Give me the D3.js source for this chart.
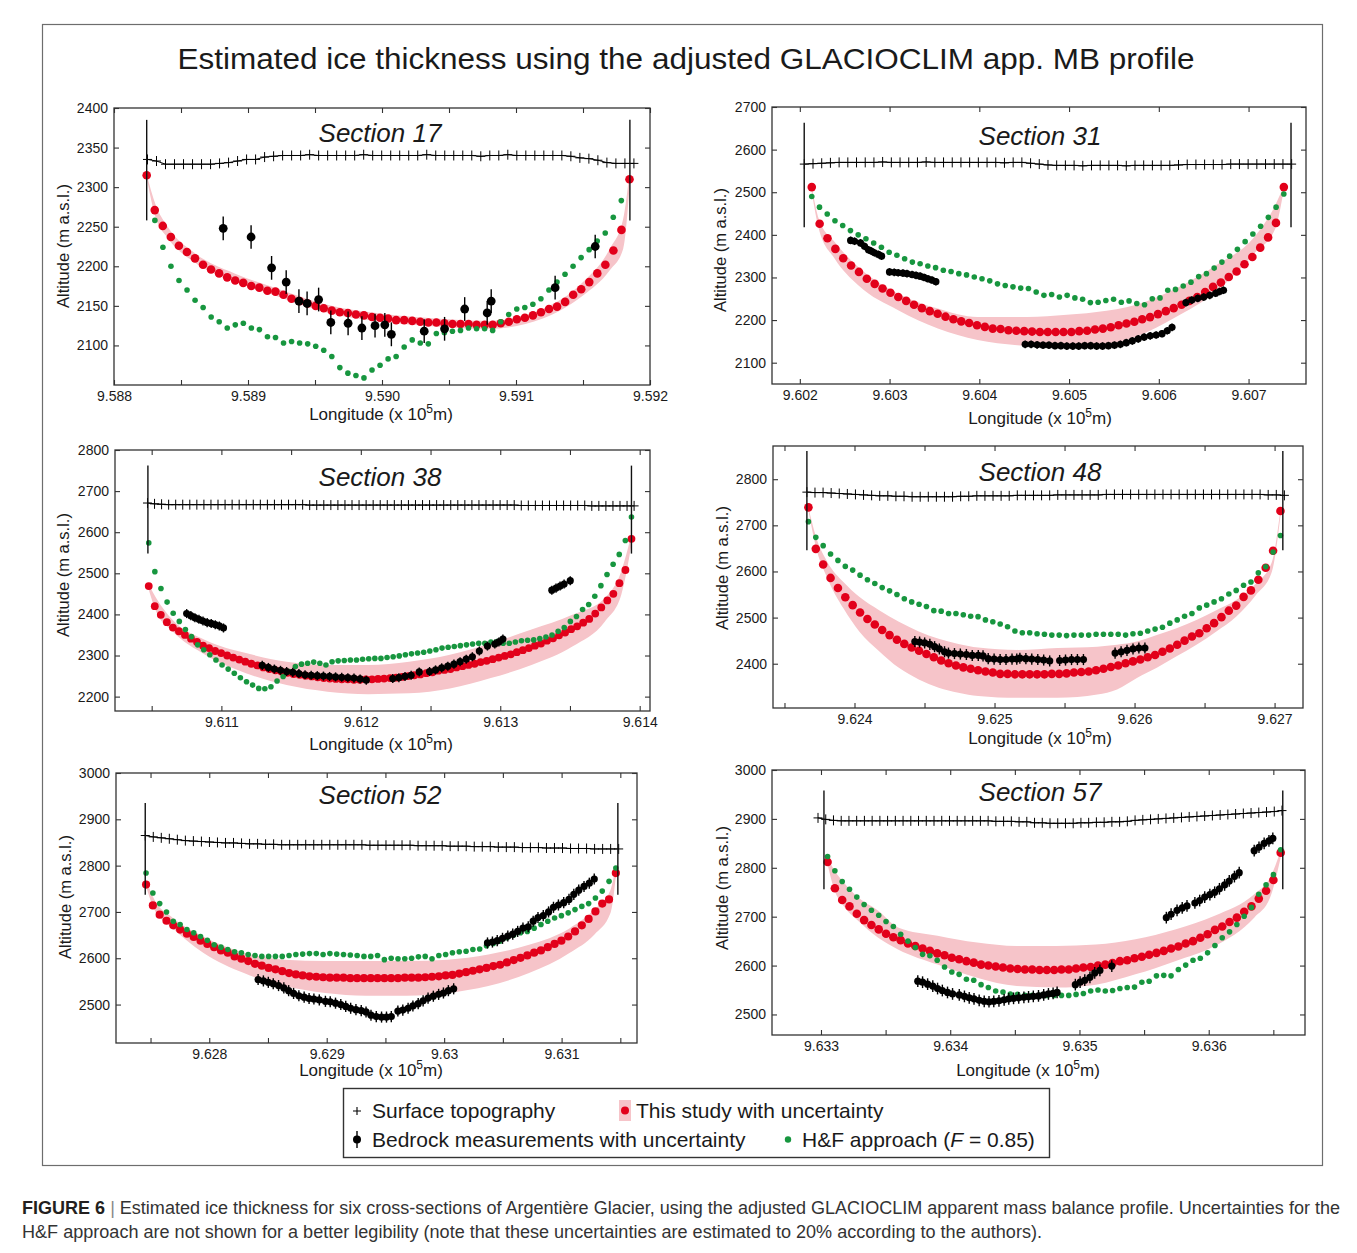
<!DOCTYPE html>
<html><head><meta charset="utf-8">
<script src="https://cdn.jsdelivr.net/npm/d3@7"></script>
<style>body{margin:0;background:#fff}</style>
</head><body>
<svg id="fig" width="1357" height="1253"></svg>
<script>
// ---------------- DATA ----------------
// Section 17
const sec17_xTicks = [9.588, 9.589, 9.590, 9.591, 9.592];
const sec17_xTickLabels = ["9.588", "9.589", "9.590", "9.591", "9.592"];
const sec17_xMinor = [9.5885, 9.5895, 9.5905, 9.5915];
const sec17_yTicks = [2100, 2150, 2200, 2250, 2300, 2350, 2400];
const sec17_redRange = [9.588244, 9.591847];
const sec17_red = [2315,2271,2251,2237,2226,2218,2210,2202,2196,2191,2186,2182,2179,2175,2173,2169,2168,2164,2159,2156,2153,2150,2147,2144,2142,2141,2139,2138,2136,2135,2134,2132,2132,2131,2130,2129,2129,2128,2127,2127,2127,2126,2126,2126,2128,2130,2133,2135,2138,2142,2146,2149,2155,2164,2171,2180,2191,2202,2220,2246,2310];
const sec17_greenRange = [9.588305, 9.591786];
const sec17_green = [2258,2224,2200,2182,2170,2157,2148,2136,2130,2122,2126,2128,2122,2120,2111,2110,2103,2105,2103,2102,2099,2094,2086,2072,2065,2062,2059,2069,2075,2083,2086,2098,2107,2103,2102,2115,2116,2118,2119,2122,2121,2121,2119,2130,2139,2146,2148,2152,2159,2170,2180,2190,2200,2211,2221,2232,2242,2262,2283];
const sec17_surfRange = [9.58825, 9.59188];
const sec17_surf = [2335,2333,2329,2329,2329,2329,2329,2329,2330,2331,2333,2335,2335,2338,2339,2340,2340,2340,2341,2340,2340,2340,2340,2340,2341,2340,2340,2340,2340,2340,2340,2341,2340,2340,2340,2340,2340,2339,2340,2340,2341,2340,2340,2340,2340,2340,2340,2339,2337,2336,2334,2331,2330,2330,2330];
const sec17_edges = [[9.588244, 2258, 2385], [9.591850, 2258, 2385]];
const sec17_bandX = [9.588244,9.58831,9.5884,9.5886,9.5889,9.5892,9.5896,9.5900,9.5904,9.5908,9.5912,9.5915,9.5917,9.5918,9.591847];
const sec17_bandLo = [2312,2262,2236,2205,2181,2163,2141,2130,2124,2121,2134,2163,2195,2222,2300];
const sec17_bandHi = [2316,2278,2250,2217,2191,2173,2151,2140,2134,2131,2146,2180,2222,2260,2318];
const sec17_bedX = [9.588815,9.589023,9.589176,9.589285,9.589380,9.589441,9.589527,9.589618,9.589747,9.589850,9.589948,9.590021,9.590070,9.590315,9.590467,9.590617,9.590785,9.590815,9.591292,9.591591];
const sec17_bedY = [2248,2237,2198,2180,2156,2153,2158,2129,2128,2122,2125,2126,2114,2118,2121,2146,2141,2156,2173,2225];

// Section 31
const sec31_xTicks = [9.602, 9.603, 9.604, 9.605, 9.606, 9.607];
const sec31_xTickLabels = ["9.602", "9.603", "9.604", "9.605", "9.606", "9.607"];
const sec31_xMinor = [];
const sec31_yTicks = [2100, 2200, 2300, 2400, 2500, 2600, 2700];
const sec31_redRange = [9.602133, 9.607393];
const sec31_red = [2512,2426,2392,2367,2345,2328,2313,2297,2285,2274,2264,2254,2245,2236,2228,2221,2215,2208,2202,2197,2193,2188,2184,2180,2179,2176,2175,2174,2173,2172,2172,2172,2172,2172,2174,2175,2178,2180,2183,2188,2192,2196,2202,2207,2214,2221,2228,2236,2245,2254,2266,2278,2288,2301,2314,2331,2348,2370,2394,2428,2512];
const sec31_greenRange = [9.602133, 9.607393];
const sec31_green = [2490,2465,2449,2433,2422,2410,2400,2391,2381,2371,2359,2352,2344,2336,2332,2327,2323,2317,2314,2309,2306,2301,2297,2292,2285,2281,2278,2275,2274,2266,2258,2260,2254,2258,2252,2249,2241,2242,2246,2249,2242,2245,2239,2236,2250,2252,2270,2272,2280,2289,2302,2309,2322,2336,2350,2366,2384,2402,2420,2441,2465,2496];
const sec31_surfRange = [9.60205, 9.60748];
const sec31_surf = [2566,2567,2568,2569,2570,2570,2570,2570,2570,2571,2570,2570,2570,2570,2571,2570,2570,2570,2570,2570,2570,2570,2570,2569,2570,2570,2568,2566,2564,2563,2563,2563,2562,2563,2563,2563,2563,2562,2563,2563,2563,2563,2563,2564,2565,2565,2565,2565,2565,2566,2566,2566,2566,2566,2566,2566,2566];
const sec31_edges = [[9.602049, 2418, 2663], [9.607473, 2418, 2663]];
const sec31_bandX = [9.602133,9.602212,9.602389,9.602654,9.603096,9.603538,9.603981,9.604423,9.604865,9.605307,9.605749,9.606191,9.606633,9.607075,9.607296,9.607393];
const sec31_bandHi = [2512,2437,2383,2324,2262,2227,2207,2207,2211,2219,2236,2274,2328,2398,2469,2515];
const sec31_bandLo = [2500,2414,2344,2281,2223,2180,2153,2141,2137,2141,2161,2207,2266,2359,2414,2507];
const sec31_bedX = [9.602566,9.602610,9.602676,9.602721,9.602765,9.602796,9.602831,9.602875,9.602911,
  9.602999,9.603052,9.603096,9.603149,9.603194,9.603251,9.603295,9.603340,9.603384,9.603428,9.603472,9.603516,
  9.604511,9.604577,9.604644,9.604710,9.604776,9.604843,9.604909,9.604975,9.605042,9.605108,9.605174,9.605241,9.605307,9.605373,9.605439,9.605506,9.605572,9.605638,9.605705,9.605771,9.605837,9.605904,9.605970,9.606036,9.606094,9.606147,
  9.606302,9.606368,9.606434,9.606500,9.606567,9.606633,9.606677,9.606721];
const sec31_bedY = [2387,2385,2381,2373,2365,2362,2358,2354,2350,
  2313,2312,2311,2310,2309,2307,2305,2303,2300,2297,2294,2290,
  2143,2143,2142,2141,2141,2140,2140,2139,2139,2139,2140,2140,2139,2139,2140,2141,2143,2147,2151,2156,2160,2163,2165,2168,2175,2183,
  2241,2247,2251,2254,2258,2263,2267,2270];

// Section 38
const sec38_xTicks = [9.611, 9.612, 9.613, 9.614];
const sec38_xTickLabels = ["9.611", "9.612", "9.613", "9.614"];
const sec38_xMinor = [9.6105, 9.6115, 9.6125, 9.6135];
const sec38_yTicks = [2200, 2300, 2400, 2500, 2600, 2700, 2800];
const sec38_redRange = [9.610479, 9.613941];
const sec38_red = [2469,2420,2399,2381,2368,2359,2350,2341,2333,2324,2318,2311,2306,2300,2295,2290,2285,2280,2276,2271,2267,2264,2261,2258,2255,2253,2251,2249,2247,2245,2244,2243,2242,2242,2241,2241,2242,2242,2243,2244,2245,2246,2248,2250,2252,2254,2257,2259,2263,2265,2267,2271,2274,2277,2280,2284,2287,2291,2295,2299,2303,2308,2313,2318,2324,2329,2336,2342,2349,2356,2364,2371,2380,2389,2402,2417,2434,2450,2476,2508,2584];
const sec38_greenRange = [9.610479, 9.613941];
const sec38_green = [2574,2504,2463,2430,2403,2383,2363,2346,2326,2314,2302,2289,2277,2267,2257,2246,2236,2228,2220,2219,2224,2238,2249,2261,2273,2279,2281,2284,2281,2277,2285,2287,2288,2289,2289,2291,2292,2293,2293,2295,2297,2299,2302,2304,2306,2308,2311,2314,2318,2320,2322,2324,2326,2328,2330,2330,2333,2334,2330,2330,2333,2336,2337,2338,2341,2345,2350,2359,2368,2383,2395,2412,2424,2444,2470,2497,2522,2546,2580,2637];
const sec38_surfRange = [9.61047, 9.61396];
const sec38_surf = [2671,2669,2668,2667,2667,2667,2667,2667,2667,2667,2667,2667,2667,2667,2667,2667,2667,2667,2667,2667,2667,2667,2667,2666,2666,2666,2666,2666,2666,2666,2666,2666,2666,2666,2666,2666,2666,2666,2666,2666,2666,2666,2666,2666,2666,2666,2666,2666,2666,2666,2666,2666,2666,2665,2665,2665,2665,2665,2665,2665,2665,2665,2665,2664,2664,2664,2664,2664,2664,2664];
const sec38_edges = [[9.610473, 2548, 2762], [9.613941, 2548, 2762]];
const sec38_bandX = [9.610479,9.610532,9.610649,9.610883,9.611176,9.611468,9.611761,9.612054,9.612346,9.612639,9.612932,9.613224,9.613517,9.613751,9.613868,9.613941];
const sec38_bandLo = [2460,2407,2359,2302,2257,2228,2212,2206,2208,2220,2245,2277,2322,2383,2448,2570];
const sec38_bandHi = [2473,2440,2387,2338,2306,2285,2277,2277,2285,2302,2330,2363,2399,2440,2505,2595];
const sec38_bedX = [9.610751,9.610781,9.610810,9.610839,9.610868,9.610898,9.610927,9.610956,9.610985,9.611015,
  9.611293,9.611337,9.611380,9.611424,9.611468,9.611512,9.611556,9.611600,9.611644,9.611688,9.611732,9.611776,9.611819,9.611863,9.611907,9.611951,9.611995,9.612039,
  9.612229,9.612273,9.612317,9.612361,9.612419,9.612493,9.612536,9.612580,9.612624,9.612668,9.612712,9.612756,9.612800,9.612850,9.612908,9.612961,9.612990,9.613019,
  9.613370,9.613400,9.613429,9.613458,9.613502];
const sec38_bedY = [2402,2397,2392,2388,2384,2380,2378,2375,2372,2367,
  2276,2271,2267,2264,2261,2259,2256,2253,2252,2251,2250,2249,2248,2247,2246,2245,2243,2240,
  2244,2246,2249,2252,2260,2261,2265,2270,2274,2279,2285,2291,2297,2311,2323,2328,2333,2340,
  2459,2464,2469,2474,2482];

// Section 48
const sec48_xTicks = [9.624, 9.625, 9.626, 9.627];
const sec48_xTickLabels = ["9.624", "9.625", "9.626", "9.627"];
const sec48_xMinor = [9.6235, 9.6245, 9.6255, 9.6265];
const sec48_yTicks = [2400, 2500, 2600, 2700, 2800];
const sec48_redRange = [9.623671, 9.627042];
const sec48_red = [2739,2649,2615,2586,2564,2544,2527,2511,2497,2485,2473,2462,2452,2443,2435,2428,2421,2414,2407,2401,2396,2392,2389,2386,2383,2381,2378,2378,2377,2377,2377,2377,2377,2378,2378,2379,2381,2382,2383,2386,2389,2393,2396,2401,2405,2409,2414,2419,2426,2433,2441,2450,2459,2466,2477,2488,2501,2515,2526,2545,2559,2582,2608,2645,2731];
const sec48_greenRange = [9.623671, 9.627042];
const sec48_green = [2708,2674,2656,2638,2624,2611,2603,2592,2582,2574,2565,2558,2550,2541,2534,2529,2524,2515,2514,2509,2509,2506,2503,2502,2495,2491,2486,2480,2471,2467,2467,2465,2464,2462,2462,2461,2462,2462,2462,2464,2464,2464,2464,2462,2465,2466,2471,2475,2479,2488,2495,2503,2509,2521,2527,2534,2541,2551,2559,2570,2577,2597,2610,2642,2678];
const sec48_surfRange = [9.62366, 9.62707];
const sec48_surf = [2772,2771,2771,2770,2769,2768,2767,2766,2765,2764,2764,2763,2763,2762,2762,2762,2762,2762,2762,2763,2763,2764,2764,2764,2764,2764,2765,2765,2765,2765,2765,2766,2766,2766,2766,2766,2766,2767,2767,2767,2767,2767,2767,2767,2767,2767,2767,2767,2767,2767,2767,2767,2767,2767,2767,2767,2767,2766,2766,2765];
const sec48_edges = [[9.623660, 2646, 2861], [9.627059, 2646, 2861]];
const sec48_bandX = [9.623671,9.623722,9.623807,9.623921,9.624034,9.624176,9.624317,9.624459,9.624601,9.624742,9.624884,9.625167,9.625450,9.625734,9.625875,9.626017,9.626159,9.626300,9.626442,9.626584,9.626725,9.626867,9.626980,9.627042];
const sec48_bandHi = [2739,2678,2620,2577,2545,2516,2491,2470,2454,2443,2435,2430,2434,2437,2441,2448,2462,2477,2495,2516,2538,2574,2620,2735];
const sec48_bandLo = [2732,2656,2585,2520,2470,2427,2391,2366,2348,2337,2330,2326,2326,2333,2344,2369,2391,2416,2441,2470,2502,2549,2599,2721];
const sec48_bedX = [9.624431,9.624465,9.624501,9.624538,9.624572,9.624606,9.624643,
  9.624671,9.624714,9.624756,9.624799,9.624841,9.624884,9.624918,
  9.624955,9.624997,9.625040,9.625082,9.625125,9.625159,
  9.625181,9.625224,9.625266,9.625309,9.625351,9.625394,
  9.625465,9.625507,9.625550,9.625592,9.625635,
  9.625861,9.625904,9.625946,9.625989,9.626031,9.626074];
const sec48_bedY = [2448,2447,2445,2442,2437,2432,2426,
  2423,2422,2421,2420,2418,2418,2417,
  2411,2410,2409,2409,2410,2410,
  2412,2411,2410,2409,2408,2406,
  2407,2408,2409,2409,2409,
  2423,2426,2429,2432,2434,2434];

// Section 52
const sec52_xTicks = [9.628, 9.629, 9.63, 9.631];
const sec52_xTickLabels = ["9.628", "9.629", "9.63", "9.631"];
const sec52_xMinor = [9.6275, 9.6285, 9.6295, 9.6305, 9.6315];
const sec52_yTicks = [2500, 2600, 2700, 2800, 2900, 3000];
const sec52_redRange = [9.627462, 9.631462];
const sec52_red = [2759,2714,2694,2681,2671,2662,2653,2646,2638,2631,2624,2617,2612,2604,2599,2594,2588,2584,2579,2576,2572,2568,2565,2563,2561,2560,2559,2558,2558,2558,2557,2557,2557,2557,2557,2557,2557,2557,2558,2558,2558,2559,2560,2561,2563,2564,2567,2570,2573,2576,2579,2583,2586,2591,2596,2601,2606,2612,2617,2624,2631,2638,2647,2658,2671,2685,2701,2718,2727,2784];
const sec52_greenRange = [9.627462, 9.631462];
const sec52_green = [2784,2741,2718,2700,2680,2673,2662,2655,2647,2639,2629,2624,2619,2614,2612,2608,2606,2604,2604,2604,2604,2606,2608,2609,2610,2610,2608,2610,2609,2608,2607,2606,2604,2604,2606,2597,2600,2599,2599,2600,2603,2604,2599,2606,2608,2612,2614,2615,2619,2620,2627,2632,2637,2644,2650,2655,2658,2665,2673,2680,2687,2692,2698,2705,2712,2718,2730,2745,2766,2795];
const sec52_surfRange = [9.627455, 9.631486];
const sec52_surf = [2865,2862,2860,2858,2856,2854,2853,2852,2851,2850,2849,2849,2848,2847,2847,2846,2846,2845,2845,2845,2845,2845,2845,2845,2845,2845,2845,2845,2844,2844,2844,2844,2844,2844,2843,2843,2843,2843,2842,2842,2842,2841,2841,2841,2840,2840,2840,2839,2839,2839,2838,2838,2838,2837,2837,2837,2836,2836,2836,2836];
const sec52_edges = [[9.627455, 2737, 2935], [9.631479, 2737, 2935]];
const sec52_bandX = [9.627462,9.627532,9.627670,9.627948,9.628295,9.628642,9.628989,9.629335,9.629682,9.630029,9.630376,9.630723,9.631070,9.631278,9.631417,9.631462];
const sec52_bandHi = [2770,2727,2691,2647,2612,2597,2594,2594,2594,2597,2608,2629,2665,2705,2748,2799];
const sec52_bandLo = [2755,2705,2669,2612,2568,2540,2525,2519,2519,2525,2540,2568,2612,2651,2698,2777];
const sec52_bedX = [9.628416,9.628461,9.628503,9.628545,9.628590,9.628635,9.628676,9.628718,9.628763,9.628808,9.628850,9.628891,9.628937,
  9.628989,9.629030,9.629075,9.629120,9.629162,9.629204,9.629249,9.629294,9.629335,9.629377,9.629422,9.629467,9.629509,9.629550,
  9.629606,9.629648,9.629693,9.629734,9.629779,9.629821,9.629863,9.629908,9.629953,9.629994,9.630036,9.630081,
  9.630369,9.630411,9.630452,9.630497,9.630542,9.630584,9.630626,9.630671,9.630716,9.630758,9.630799,9.630844,9.630889,9.630931,9.630973,9.631018,9.631063,9.631104,9.631146,9.631191,9.631236,9.631278];
const sec52_bedY = [2554,2551,2548,2545,2541,2536,2530,2524,2519,2516,2513,2512,2510,
  2507,2506,2503,2500,2496,2492,2489,2487,2484,2477,2474,2473,2473,2474,
  2486,2488,2492,2497,2502,2508,2514,2518,2522,2525,2530,2534,
  2633,2635,2638,2643,2648,2652,2658,2665,2668,2680,2688,2692,2700,2710,2715,2720,2727,2738,2747,2755,2762,2771];

// Section 57
const sec57_xTicks = [9.633, 9.634, 9.635, 9.636];
const sec57_xTickLabels = ["9.633", "9.634", "9.635", "9.636"];
const sec57_xMinor = [9.6335, 9.6345, 9.6355, 9.6365];
const sec57_yTicks = [2500, 2600, 2700, 2800, 2900, 3000];
const sec57_redRange = [9.633051, 9.636557];
const sec57_red = [2812,2758,2734,2721,2706,2693,2683,2674,2665,2658,2652,2645,2640,2635,2630,2625,2621,2616,2613,2609,2606,2602,2600,2598,2596,2594,2593,2592,2592,2591,2591,2591,2592,2592,2594,2596,2597,2600,2602,2605,2609,2611,2615,2618,2622,2626,2630,2635,2639,2645,2650,2657,2664,2673,2680,2689,2698,2710,2721,2737,2753,2775,2831];
const sec57_greenRange = [9.633051, 9.636557];
const sec57_green = [2823,2794,2772,2756,2740,2725,2713,2703,2690,2680,2664,2650,2637,2623,2620,2611,2597,2587,2582,2572,2570,2561,2555,2548,2546,2542,2541,2539,2539,2539,2539,2539,2539,2539,2541,2543,2548,2550,2548,2549,2553,2555,2556,2566,2568,2579,2580,2579,2592,2601,2611,2615,2626,2641,2657,2669,2684,2701,2719,2746,2765,2786,2837];
const sec57_surfRange = [9.632977, 9.636567];
const sec57_surf = [2902,2899,2897,2896,2896,2896,2896,2896,2896,2896,2896,2896,2896,2896,2896,2896,2896,2896,2896,2896,2896,2896,2896,2895,2895,2895,2894,2894,2892,2892,2891,2891,2891,2891,2892,2892,2893,2893,2894,2894,2895,2897,2898,2899,2900,2901,2902,2903,2904,2905,2906,2907,2908,2909,2910,2911,2912,2913,2914,2915,2917];
const sec57_edges = [[9.633023, 2756, 2958], [9.636573, 2756, 2958]];
const sec57_bandX = [9.633051,9.633106,9.633167,9.633289,9.633443,9.633596,9.633902,9.634208,9.634515,9.634821,9.635127,9.635433,9.635740,9.636046,9.636352,9.636475,9.636557];
const sec57_bandHi = [2821,2794,2773,2739,2712,2678,2661,2647,2640,2640,2643,2654,2674,2702,2746,2780,2835];
const sec57_bandLo = [2807,2753,2725,2691,2657,2633,2602,2575,2558,2555,2561,2582,2609,2640,2698,2739,2821];
const sec57_bedX = [9.633749,9.633786,9.633825,9.633865,9.633902,9.633939,9.633979,9.634018,
  9.634070,9.634110,9.634147,9.634184,9.634224,9.634263,9.634300,9.634337,9.634377,9.634417,9.634453,9.634490,9.634530,9.634570,9.634606,9.634643,9.634683,9.634723,9.634760,9.634796,9.634827,
  9.634968,9.635005,9.635041,9.635081,9.635118,9.635158,9.635250,
  9.635672,9.635709,9.635755,9.635795,9.635832,9.635893,9.635930,9.635969,9.636009,9.636046,9.636083,9.636123,9.636159,9.636199,9.636236,
  9.636352,9.636389,9.636429,9.636466,9.636496];
const sec57_bedY = [2568,2566,2562,2558,2553,2549,2545,2542,
  2540,2537,2534,2532,2529,2527,2526,2527,2528,2530,2532,2533,2534,2535,2536,2537,2538,2540,2542,2543,2545,
  2561,2566,2570,2576,2585,2590,2599,
  2698,2705,2713,2718,2722,2728,2733,2740,2745,2750,2757,2765,2773,2782,2790,
  2835,2842,2850,2855,2860];

// ---------------- LAYOUT ----------------
const RED = "#e2001a", PINK = "#f6c4c9", GREEN = "#17963f", INK = "#1a1a1a";
const FONT = "'Liberation Sans', Arial, Helvetica, sans-serif";

const panels = [
  {title:"Section 17", box:[114,108,650,385], xDom:[9.588,9.592], yDom:[2050,2400],
   xTicks:sec17_xTicks, xLabels:sec17_xTickLabels, xMinor:sec17_xMinor, yTicks:sec17_yTicks,
   red:[sec17_redRange, sec17_red], green:[sec17_greenRange, sec17_green], surf:[sec17_surfRange, sec17_surf],
   edges:sec17_edges, band:[sec17_bandX, sec17_bandLo, sec17_bandHi], bed:[sec17_bedX, sec17_bedY],
   bedErr:15, bedR:4.4, redR:4.3, titlePos:[380,142], yLab:[63,246], xLab:[381,420]},
  {title:"Section 31", box:[772,107,1306,384], xDom:[9.60169,9.60764], yDom:[2050,2700],
   xTicks:sec31_xTicks, xLabels:sec31_xTickLabels, xMinor:sec31_xMinor, yTicks:sec31_yTicks,
   red:[sec31_redRange, sec31_red], green:[sec31_greenRange, sec31_green], surf:[sec31_surfRange, sec31_surf],
   edges:sec31_edges, band:[sec31_bandX, sec31_bandLo, sec31_bandHi], bed:[sec31_bedX, sec31_bedY],
   bedErr:9, bedR:3.6, redR:4.3, titlePos:[1040,145], yLab:[720,250], xLab:[1040,424]},
  {title:"Section 38", box:[115,450,650,711], xDom:[9.610237,9.614074], yDom:[2165,2800],
   xTicks:sec38_xTicks, xLabels:sec38_xTickLabels, xMinor:sec38_xMinor, yTicks:sec38_yTicks,
   red:[sec38_redRange, sec38_red], green:[sec38_greenRange, sec38_green], surf:[sec38_surfRange, sec38_surf],
   edges:sec38_edges, band:[sec38_bandX, sec38_bandLo, sec38_bandHi], bed:[sec38_bedX, sec38_bedY],
   bedErr:11, bedR:3.6, redR:3.9, titlePos:[380,486], yLab:[63,575], xLab:[381,750]},
  {title:"Section 48", box:[773,446,1303,708], xDom:[9.623418,9.627203], yDom:[2304,2872],
   xTicks:sec48_xTicks, xLabels:sec48_xTickLabels, xMinor:sec48_xMinor, yTicks:sec48_yTicks,
   red:[sec48_redRange, sec48_red], green:[sec48_greenRange, sec48_green], surf:[sec48_surfRange, sec48_surf],
   edges:sec48_edges, band:[sec48_bandX, sec48_bandLo, sec48_bandHi], bed:[sec48_bedX, sec48_bedY],
   bedErr:12, bedR:3.6, redR:4.3, titlePos:[1040,481], yLab:[722,568], xLab:[1040,744]},
  {title:"Section 52", box:[116,773,637,1043], xDom:[9.627206,9.631642], yDom:[2417,3000],
   xTicks:sec52_xTicks, xLabels:sec52_xTickLabels, xMinor:sec52_xMinor, yTicks:sec52_yTicks,
   red:[sec52_redRange, sec52_red], green:[sec52_greenRange, sec52_green], surf:[sec52_surfRange, sec52_surf],
   edges:sec52_edges, band:[sec52_bandX, sec52_bandLo, sec52_bandHi], bed:[sec52_bedX, sec52_bedY],
   bedErr:12, bedR:3.6, redR:4.1, titlePos:[380,804], yLab:[65,897], xLab:[371,1076]},
  {title:"Section 57", box:[772,770,1305,1035], xDom:[9.632621,9.636745], yDom:[2458,3000],
   xTicks:sec57_xTicks, xLabels:sec57_xTickLabels, xMinor:sec57_xMinor, yTicks:sec57_yTicks,
   red:[sec57_redRange, sec57_red], green:[sec57_greenRange, sec57_green], surf:[sec57_surfRange, sec57_surf],
   edges:sec57_edges, band:[sec57_bandX, sec57_bandLo, sec57_bandHi], bed:[sec57_bedX, sec57_bedY],
   bedErr:12, bedR:3.6, redR:4.3, titlePos:[1040,801], yLab:[722,888], xLab:[1028,1076]}
];

// evenly spaced model grid nodes between first and last node
function gridPoints(range, ys) {
  const n = ys.length;
  return ys.map((v, i) => ({x: range[0] + (range[1] - range[0]) * i / (n - 1), y: v}));
}

const svg = d3.select("#fig");
svg.append("rect").attr("width",1357).attr("height",1253).attr("fill","#fff");
svg.append("rect").attr("x",42.5).attr("y",24.5).attr("width",1280).attr("height",1141)
  .attr("fill","none").attr("stroke","#6d6d6d").attr("stroke-width",1.2);

svg.append("text").attr("x",686).attr("y",69).attr("text-anchor","middle")
  .attr("font-family",FONT).attr("font-size",29).attr("fill",INK)
  .attr("textLength",1017).attr("lengthAdjust","spacingAndGlyphs")
  .text("Estimated ice thickness using the adjusted GLACIOCLIM app. MB profile");

panels.forEach(p => {
  const [x0,y0,x1,y1] = p.box;
  const x = d3.scaleLinear().domain(p.xDom).range([x0,x1]);
  const y = d3.scaleLinear().domain(p.yDom).range([y1,y0]);
  const g = svg.append("g");

  // uncertainty band
  const bd = p.band[0].map((xv,i)=>({x:xv, lo:p.band[1][i], hi:p.band[2][i]}));
  g.append("path").datum(bd)
    .attr("d", d3.area().x(d=>x(d.x)).y0(d=>y(d.lo)).y1(d=>y(d.hi)).curve(d3.curveMonotoneX))
    .attr("fill", PINK);

  // red (this study)
  g.append("g").selectAll("circle").data(gridPoints(p.red[0], p.red[1])).join("circle")
    .attr("cx", d=>x(d.x)).attr("cy", d=>y(d.y)).attr("r", p.redR).attr("fill", RED);

  // green (H&F)
  g.append("g").selectAll("circle").data(gridPoints(p.green[0], p.green[1])).join("circle")
    .attr("cx", d=>x(d.x)).attr("cy", d=>y(d.y)).attr("r", 2.8).attr("fill", GREEN);

  // bedrock with error bars
  const bed = p.bed[0].map((xv,i)=>({x:xv, y:p.bed[1][i]}));
  const bg = g.append("g");
  bg.selectAll("line").data(bed).join("line")
    .attr("x1", d=>x(d.x)).attr("x2", d=>x(d.x))
    .attr("y1", d=>y(d.y - p.bedErr)).attr("y2", d=>y(d.y + p.bedErr))
    .attr("stroke","#000").attr("stroke-width",1.4);
  bg.selectAll("circle").data(bed).join("circle")
    .attr("cx", d=>x(d.x)).attr("cy", d=>y(d.y)).attr("r", p.bedR).attr("fill","#000");

  // surface topography
  const sp = gridPoints(p.surf[0], p.surf[1]);
  g.append("path").datum(sp).attr("d", d3.line().x(d=>x(d.x)).y(d=>y(d.y)))
    .attr("fill","none").attr("stroke","#000").attr("stroke-width",1);
  g.append("g").selectAll("path").data(sp).join("path")
    .attr("transform", d=>`translate(${x(d.x)},${y(d.y)})`)
    .attr("d","M-4.5,0H4.5M0,-5V5").attr("stroke","#000").attr("stroke-width",1).attr("fill","none");

  // margin bars
  g.append("g").selectAll("line").data(p.edges).join("line")
    .attr("x1", d=>x(d[0])).attr("x2", d=>x(d[0])).attr("y1", d=>y(d[1])).attr("y2", d=>y(d[2]))
    .attr("stroke","#111").attr("stroke-width",1.4);

  // axes
  const allX = p.xTicks.concat(p.xMinor);
  const fmtX = v => { const i = p.xTicks.indexOf(v); return i >= 0 ? p.xLabels[i] : ""; };
  const axB = g.append("g").attr("transform",`translate(0,${y1})`)
    .call(d3.axisBottom(x).tickValues(allX).tickSizeInner(-5).tickSizeOuter(0).tickPadding(6).tickFormat(fmtX));
  const axT = g.append("g").attr("transform",`translate(0,${y0})`)
    .call(d3.axisTop(x).tickValues(allX).tickSizeInner(-5).tickSizeOuter(0).tickFormat(""));
  const axL = g.append("g").attr("transform",`translate(${x0},0)`)
    .call(d3.axisLeft(y).tickValues(p.yTicks).tickSizeInner(-5).tickSizeOuter(0).tickPadding(6).tickFormat(d3.format("d")));
  const axR = g.append("g").attr("transform",`translate(${x1},0)`)
    .call(d3.axisRight(y).tickValues(p.yTicks).tickSizeInner(-5).tickSizeOuter(0).tickFormat(""));
  [axB,axT,axL,axR].forEach(a => {
    a.attr("font-size",null).attr("font-family",null);
    a.select(".domain").remove();
    a.selectAll(".tick line").attr("stroke","#333").attr("stroke-width",1.1);
    a.selectAll("text").attr("font-family",FONT).attr("font-size",14).attr("fill",INK);
  });
  g.append("rect").attr("x",x0).attr("y",y0).attr("width",x1-x0).attr("height",y1-y0)
    .attr("fill","none").attr("stroke","#333").attr("stroke-width",1.3);

  // labels
  g.append("text").attr("x",p.titlePos[0]).attr("y",p.titlePos[1]).attr("text-anchor","middle")
    .attr("font-family",FONT).attr("font-style","italic").attr("font-size",26).attr("fill",INK).text(p.title);
  g.append("text").attr("transform",`translate(${p.yLab[0]},${p.yLab[1]}) rotate(-90)`)
    .attr("text-anchor","middle").attr("dy","0.35em")
    .attr("font-family",FONT).attr("font-size",16.5).attr("fill",INK).text("Altitude (m a.s.l.)");
  const xl = g.append("text").attr("x",p.xLab[0]).attr("y",p.xLab[1]).attr("text-anchor","middle")
    .attr("font-family",FONT).attr("font-size",17).attr("fill",INK);
  xl.append("tspan").text("Longitude (x 10");
  xl.append("tspan").attr("dy",-7).attr("font-size",12).text("5");
  xl.append("tspan").attr("dy",7).text("m)");
});

// legend
const lg = svg.append("g");
lg.append("rect").attr("x",343.5).attr("y",1088.5).attr("width",706).attr("height",69)
  .attr("fill","#fff").attr("stroke","#333").attr("stroke-width",1.4);
lg.append("path").attr("d","M353,1111H361M357,1107V1115").attr("stroke","#000").attr("stroke-width",1.1);
lg.append("rect").attr("x",619).attr("y",1100).attr("width",12).attr("height",21).attr("fill",PINK);
lg.append("circle").attr("cx",625).attr("cy",1110.5).attr("r",4).attr("fill",RED);
lg.append("line").attr("x1",357).attr("x2",357).attr("y1",1131).attr("y2",1148).attr("stroke","#000").attr("stroke-width",1.4);
lg.append("circle").attr("cx",357).attr("cy",1139.5).attr("r",4).attr("fill","#000");
lg.append("circle").attr("cx",788).attr("cy",1139.5).attr("r",3.2).attr("fill",GREEN);
const legText = (tx, ty, s) => lg.append("text").attr("x",tx).attr("y",ty)
  .attr("font-family",FONT).attr("font-size",21).attr("fill",INK).text(s);
legText(372,1118,"Surface topography");
legText(636,1118,"This study with uncertainty");
legText(372,1147,"Bedrock measurements with uncertainty");
const hf = lg.append("text").attr("x",802).attr("y",1147).attr("font-family",FONT).attr("font-size",21).attr("fill",INK);
hf.append("tspan").text("H&F approach (");
hf.append("tspan").attr("font-style","italic").text("F");
hf.append("tspan").text(" = 0.85)");

// caption
const CAP = "'Liberation Sans Narrow', 'Arial Narrow', 'Liberation Sans', Arial, sans-serif";
const c1 = svg.append("text").attr("x",22).attr("y",1214).attr("font-family",CAP).attr("font-size",17.5)
  .attr("fill","#333").attr("textLength",1318).attr("lengthAdjust","spacingAndGlyphs");
c1.append("tspan").attr("font-weight","bold").attr("fill","#231f20").text("FIGURE 6");
c1.append("tspan").attr("fill","#888").text(" | ");
c1.append("tspan").text("Estimated ice thickness for six cross-sections of Argentière Glacier, using the adjusted GLACIOCLIM apparent mass balance profile. Uncertainties for the");
svg.append("text").attr("x",22).attr("y",1238).attr("font-family",CAP).attr("font-size",17.5)
  .attr("fill","#333").attr("textLength",1020).attr("lengthAdjust","spacingAndGlyphs")
  .text("H&F approach are not shown for a better legibility (note that these uncertainties are estimated to 20% according to the authors).");
</script>
</body></html>
